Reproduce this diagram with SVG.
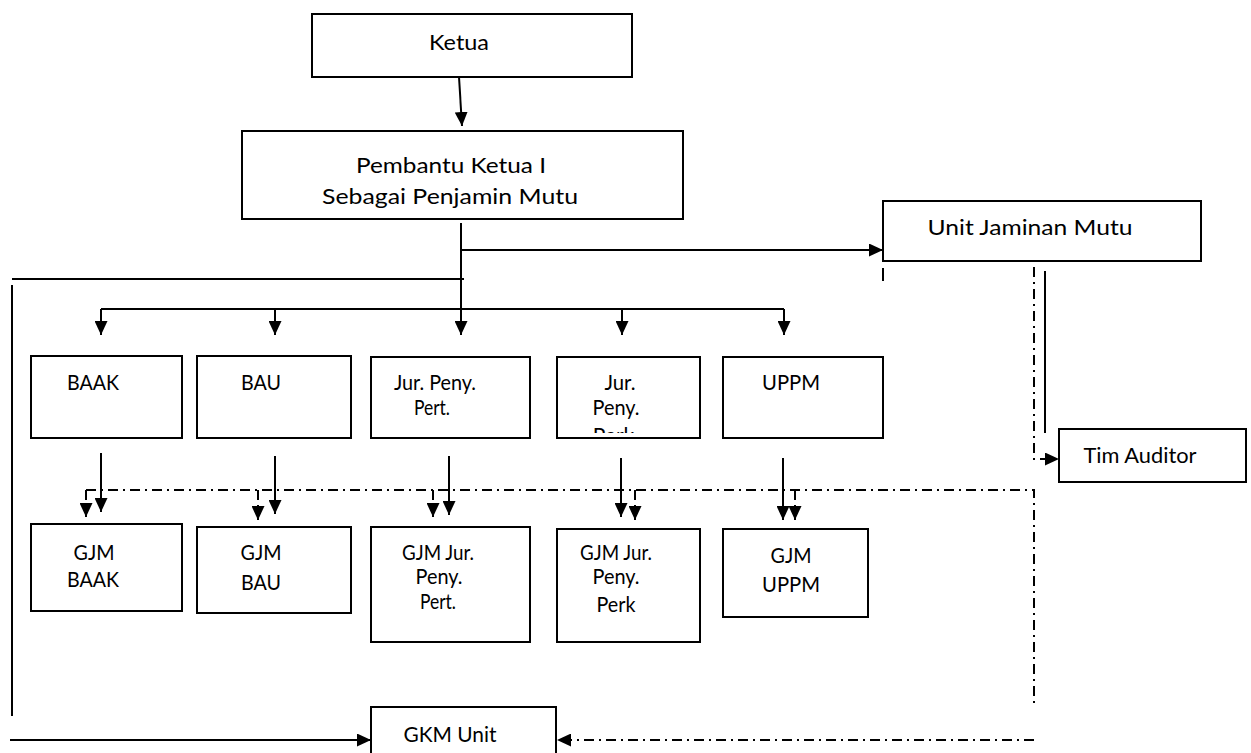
<svg xmlns="http://www.w3.org/2000/svg" width="1251" height="753" viewBox="0 0 1251 753">
<style>
.box{fill:#fff;stroke:#000;stroke-width:2}
.t{font-family:Lato,"Open Sans","Liberation Sans",sans-serif;font-size:21px;fill:#000;text-anchor:middle}
.ln{fill:none;stroke:#000;stroke-width:2}
.dd{fill:none;stroke:#000;stroke-width:2;stroke-dasharray:10 5 2 5}
</style>
<defs>
<marker id="ah" markerUnits="userSpaceOnUse" markerWidth="14" markerHeight="13" viewBox="0 0 14 13" refX="14" refY="6.5" orient="auto"><path d="M0,0 L14,6.5 L0,13 z" fill="#000"/></marker>
<clipPath id="clipPerk"><rect x="557" y="357" width="143" height="76"/></clipPath>
</defs>
<rect width="1251" height="753" fill="#fff"/>

<g id="connectors">
<path class="ln" d="M459,77 L462,126" marker-end="url(#ah)"/>
<path class="ln" d="M461,223 L461,309"/>
<path class="ln" d="M461,250 L883,250" marker-end="url(#ah)"/>
<path class="ln" d="M12,279 L464,279"/>
<path class="ln" d="M12,285 L12,716"/>
<path class="ln" d="M101,309 L784,309"/>
<path class="ln" d="M101,309 L101,335" marker-end="url(#ah)"/>
<path class="ln" d="M275,309 L275,335" marker-end="url(#ah)"/>
<path class="ln" d="M461,309 L461,335" marker-end="url(#ah)"/>
<path class="ln" d="M622,309 L622,335" marker-end="url(#ah)"/>
<path class="ln" d="M784,309 L784,335" marker-end="url(#ah)"/>
<path class="ln" d="M10,740 L371,740" marker-end="url(#ah)"/>
<path class="ln" d="M101,453 L101,512" marker-end="url(#ah)"/>
<path class="ln" d="M275,456 L275,514" marker-end="url(#ah)"/>
<path class="ln" d="M449,456 L449,515" marker-end="url(#ah)"/>
<path class="ln" d="M621,458 L621,517" marker-end="url(#ah)"/>
<path class="ln" d="M783,458 L783,520" marker-end="url(#ah)"/>
<path class="dd" d="M86,490 L1034,490 L1034,705"/>
<path class="dd" d="M86,490 L86,517" marker-end="url(#ah)"/>
<path class="dd" d="M258,490 L258,520" marker-end="url(#ah)"/>
<path class="dd" d="M433,490 L433,517" marker-end="url(#ah)"/>
<path class="dd" d="M635,490 L635,520" marker-end="url(#ah)"/>
<path class="dd" d="M795,490 L795,520" marker-end="url(#ah)"/>
<path class="dd" d="M1034,740 L557,740" marker-end="url(#ah)"/>
<path class="ln" d="M883,268 L883,281"/>
<path class="dd" d="M1034,267 L1034,459 L1059,459" marker-end="url(#ah)"/>
<path class="ln" d="M1045,271 L1045,433"/>
</g>

<g id="ketua">
<rect class="box" x="312" y="14" width="320" height="63"/>
<text class="t" x="459" y="50" textLength="60" lengthAdjust="spacingAndGlyphs">Ketua</text>
</g>
<g id="pembantu">
<rect class="box" x="242" y="131" width="441" height="88"/>
<text class="t" x="451" y="173" textLength="190" lengthAdjust="spacingAndGlyphs">Pembantu Ketua I</text>
<text class="t" x="450" y="204" textLength="256" lengthAdjust="spacingAndGlyphs">Sebagai Penjamin Mutu</text>
</g>
<g id="ujm">
<rect class="box" x="883" y="201" width="318" height="60"/>
<text class="t" x="1030" y="235" textLength="205" lengthAdjust="spacingAndGlyphs">Unit Jaminan Mutu</text>
</g>
<g id="tim-auditor">
<rect class="box" x="1059" y="429" width="187" height="53"/>
<text class="t" x="1140" y="463" textLength="113" lengthAdjust="spacingAndGlyphs">Tim Auditor</text>
</g>
<g id="baak">
<rect class="box" x="31" y="356" width="151" height="82"/>
<text class="t" x="93" y="390" textLength="52" lengthAdjust="spacingAndGlyphs">BAAK</text>
</g>
<g id="bau">
<rect class="box" x="197" y="356" width="154" height="82"/>
<text class="t" x="261" y="390" textLength="40" lengthAdjust="spacingAndGlyphs">BAU</text>
</g>
<g id="jur-pert">
<rect class="box" x="371" y="357" width="159" height="81"/>
<text class="t" x="435" y="390" textLength="82" lengthAdjust="spacingAndGlyphs">Jur. Peny.</text>
<text class="t" x="432" y="415" textLength="36" lengthAdjust="spacingAndGlyphs">Pert.</text>
</g>
<g id="jur-perk">
<rect class="box" x="557" y="357" width="143" height="81"/>
<text class="t" x="620" y="390" textLength="31" lengthAdjust="spacingAndGlyphs">Jur.</text>
<text class="t" x="616" y="415" textLength="47" lengthAdjust="spacingAndGlyphs">Peny.</text>
<text class="t" x="616" y="443" clip-path="url(#clipPerk)">Perk.</text>
</g>
<g id="uppm">
<rect class="box" x="723" y="357" width="160" height="81"/>
<text class="t" x="791" y="390" textLength="58" lengthAdjust="spacingAndGlyphs">UPPM</text>
</g>
<g id="gjm-baak">
<rect class="box" x="31" y="524" width="151" height="87"/>
<text class="t" x="94" y="560" textLength="41" lengthAdjust="spacingAndGlyphs">GJM</text>
<text class="t" x="93" y="587" textLength="52" lengthAdjust="spacingAndGlyphs">BAAK</text>
</g>
<g id="gjm-bau">
<rect class="box" x="197" y="527" width="154" height="86"/>
<text class="t" x="261" y="560" textLength="41" lengthAdjust="spacingAndGlyphs">GJM</text>
<text class="t" x="261" y="590" textLength="40" lengthAdjust="spacingAndGlyphs">BAU</text>
</g>
<g id="gjm-jur-pert">
<rect class="box" x="371" y="527" width="159" height="115"/>
<text class="t" x="438" y="560" textLength="72" lengthAdjust="spacingAndGlyphs">GJM Jur.</text>
<text class="t" x="439" y="584" textLength="47" lengthAdjust="spacingAndGlyphs">Peny.</text>
<text class="t" x="438" y="609" textLength="36" lengthAdjust="spacingAndGlyphs">Pert.</text>
</g>
<g id="gjm-jur-perk">
<rect class="box" x="557" y="529" width="143" height="113"/>
<text class="t" x="616" y="560" textLength="72" lengthAdjust="spacingAndGlyphs">GJM Jur.</text>
<text class="t" x="616" y="584" textLength="47" lengthAdjust="spacingAndGlyphs">Peny.</text>
<text class="t" x="616" y="612" textLength="39" lengthAdjust="spacingAndGlyphs">Perk</text>
</g>
<g id="gjm-uppm">
<rect class="box" x="723" y="529" width="145" height="88"/>
<text class="t" x="791" y="563" textLength="41" lengthAdjust="spacingAndGlyphs">GJM</text>
<text class="t" x="791" y="592" textLength="58" lengthAdjust="spacingAndGlyphs">UPPM</text>
</g>
<g id="gkm-unit">
<rect class="box" x="371" y="707" width="185" height="60"/>
<text class="t" x="450" y="742" textLength="93" lengthAdjust="spacingAndGlyphs">GKM Unit</text>
</g>
</svg>
